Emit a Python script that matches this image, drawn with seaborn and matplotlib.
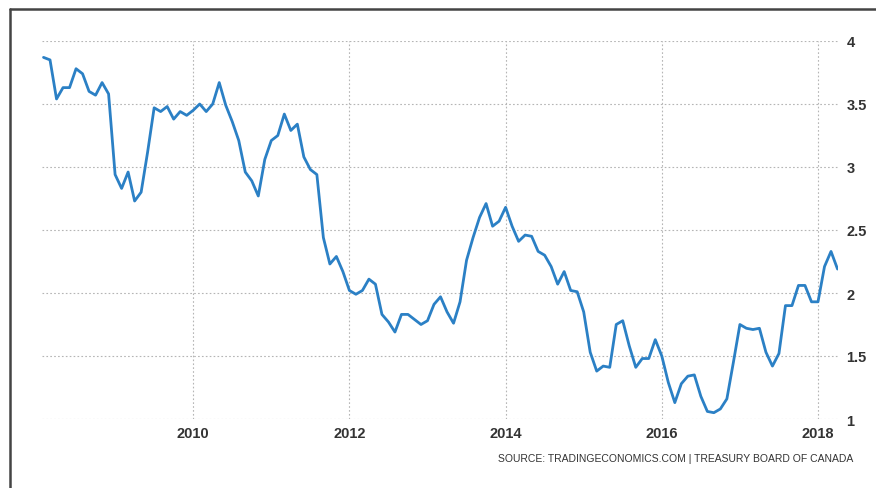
import numpy as np
import pandas as pd
import matplotlib
matplotlib.use("Agg")
import matplotlib.pyplot as plt
import seaborn as sns
from matplotlib.lines import Line2D

# Canada 10-year bond yield, monthly, from Feb 2008
start_year = 2008 + 1 / 12
yields = [
    3.87, 3.85, 3.54, 3.63, 3.63, 3.78, 3.74, 3.60, 3.57, 3.67, 3.58, 2.94,
    2.83, 2.96, 2.73, 2.80, 3.12, 3.47, 3.44, 3.48, 3.38, 3.44, 3.41, 3.45,
    3.50, 3.44, 3.50, 3.67, 3.49, 3.36, 3.21, 2.96, 2.89, 2.77, 3.06, 3.21,
    3.25, 3.42, 3.29, 3.34, 3.08, 2.98, 2.94, 2.44, 2.23, 2.29, 2.17, 2.02,
    1.99, 2.02, 2.11, 2.07, 1.83, 1.77, 1.69, 1.83, 1.83, 1.79, 1.75, 1.78,
    1.91, 1.97, 1.85, 1.76, 1.93, 2.26, 2.44, 2.60, 2.71, 2.53, 2.57, 2.68,
    2.53, 2.41, 2.46, 2.45, 2.33, 2.30, 2.21, 2.07, 2.17, 2.02, 2.01, 1.85,
    1.53, 1.38, 1.42, 1.41, 1.75, 1.78, 1.58, 1.41, 1.48, 1.48, 1.63, 1.50,
    1.29, 1.13, 1.28, 1.34, 1.35, 1.18, 1.06, 1.05, 1.08, 1.16, 1.45, 1.75,
    1.72, 1.71, 1.72, 1.53, 1.42, 1.52, 1.90, 1.90, 2.06, 2.06, 1.93, 1.93,
    2.21, 2.33, 2.19,
]
x_ticks = [2010, 2012, 2014, 2016, 2018]
y_ticks = [1, 1.5, 2, 2.5, 3, 3.5, 4]
y_tick_labels = ["1", "1.5", "2", "2.5", "3", "3.5", "4"]
source_text = "SOURCE: TRADINGECONOMICS.COM | TREASURY BOARD OF CANADA"

df = pd.DataFrame({
    "t": [start_year + i / 12 for i in range(len(yields))],
    "y": yields,
})

sns.set_style("white")
plt.rcParams["font.family"] = ["Liberation Sans Narrow", "Liberation Sans", "DejaVu Sans"]

fig = plt.figure(figsize=(8.76, 4.89), dpi=100)
W, H = 876, 489
# axes: px 42..838 horizontally, 42..420 vertically
ax = fig.add_axes([42 / W, 1 - 420 / H, (838 - 42) / W, (420 - 42) / H])

sns.lineplot(data=df, x="t", y="y", ax=ax, color="#2b80c5", linewidth=2.0)

pxyr = 78.1
ax.set_xlim(2008 + 5 / pxyr, 2008 + 801 / pxyr)
ax.set_ylim(1, 4)

ax.set_xticks(x_ticks)
ax.set_xticklabels([str(v) for v in x_ticks])
ax.set_yticks(y_ticks)
ax.set_yticklabels(y_tick_labels)
ax.yaxis.tick_right()

for lab in ax.get_xticklabels() + ax.get_yticklabels():
    lab.set_fontsize(10.5)
    lab.set_color("#333333")
    lab.set_fontweight("bold")

ax.tick_params(axis="x", length=0, pad=5)
ax.tick_params(axis="y", length=0, pad=6)
ax.set_xlabel("")
ax.set_ylabel("")

ax.grid(True, axis="both", color="#b5b5b5", linestyle=(0, (1.5, 2)), linewidth=0.8)
ax.set_axisbelow(True)
for s in ax.spines.values():
    s.set_visible(False)

fig.text(853 / W, 1 - 459 / H, source_text, ha="right", va="center",
         fontsize=7.5, color="#333333")

# outer frame (top and left edges)
fig.add_artist(Line2D([10 / W, 1.0], [1 - 10 / H, 1 - 10 / H],
                      transform=fig.transFigure, color="#444444", linewidth=1.8))
fig.add_artist(Line2D([10 / W, 10 / W], [0.0, 1 - 10 / H],
                      transform=fig.transFigure, color="#444444", linewidth=1.8))

fig.savefig("out.png", dpi=100)
